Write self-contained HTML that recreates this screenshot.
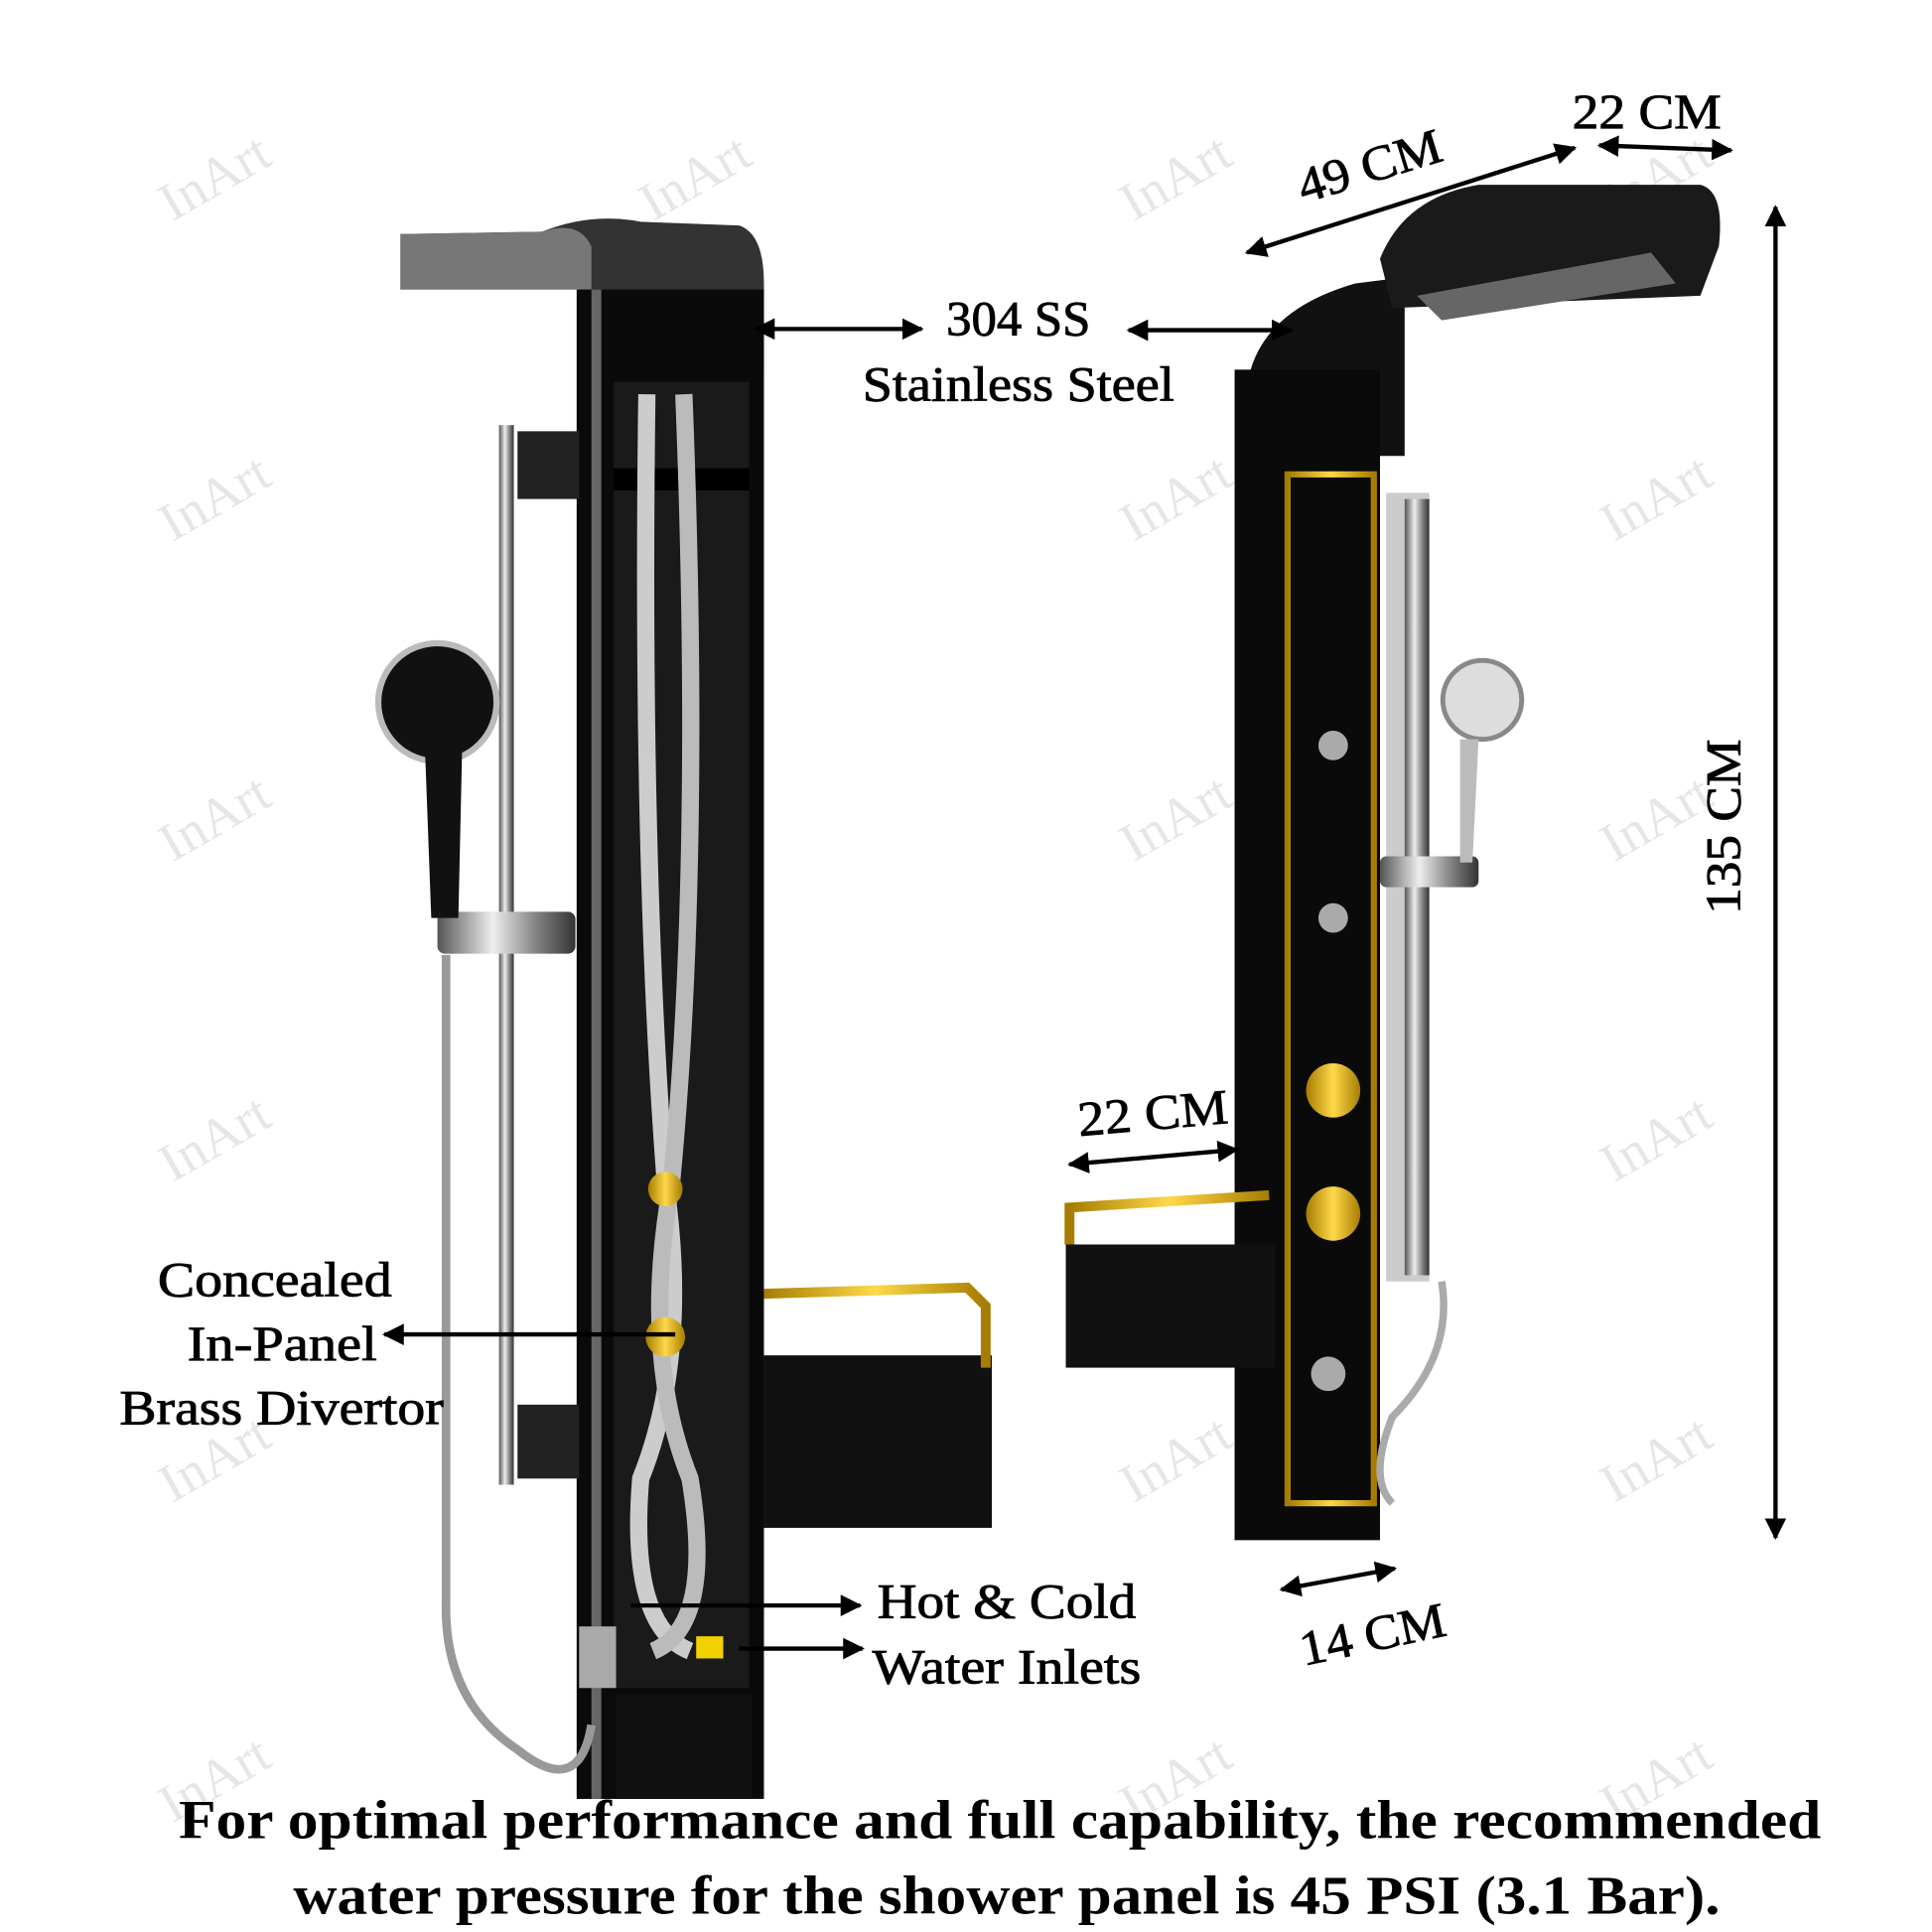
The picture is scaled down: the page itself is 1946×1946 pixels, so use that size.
<!DOCTYPE html>
<html><head><meta charset="utf-8"><style>
html,body{margin:0;padding:0;background:#fff}
svg{display:block}
text{font-family:"Liberation Serif",serif}
</style></head><body>
<svg width="1946" height="1946" viewBox="0 0 1568 1568" xmlns="http://www.w3.org/2000/svg">
<defs>
<marker id="a" viewBox="0 0 10 10" refX="9" refY="5" markerWidth="5" markerHeight="5" orient="auto-start-reverse"><path d="M0,0L10,5L0,10z" fill="#000"/></marker>
<linearGradient id="chrome" x1="0" x2="1"><stop offset="0" stop-color="#555"/><stop offset=".4" stop-color="#eee"/><stop offset=".7" stop-color="#888"/><stop offset="1" stop-color="#333"/></linearGradient>
<linearGradient id="gold" x1="0" x2="1"><stop offset="0" stop-color="#a67c00"/><stop offset=".5" stop-color="#ffd84a"/><stop offset="1" stop-color="#a67c00"/></linearGradient>
</defs>
<rect width="1568" height="1568" fill="#fff"/>
<g fill="#e6e6e6" font-size="44" font-family="Liberation Serif,serif">
<text transform="translate(140,180) rotate(-30)">InArt</text>
<text transform="translate(530,180) rotate(-30)">InArt</text>
<text transform="translate(920,180) rotate(-30)">InArt</text>
<text transform="translate(1310,180) rotate(-30)">InArt</text>
<text transform="translate(140,440) rotate(-30)">InArt</text>
<text transform="translate(920,440) rotate(-30)">InArt</text>
<text transform="translate(1310,440) rotate(-30)">InArt</text>
<text transform="translate(140,700) rotate(-30)">InArt</text>
<text transform="translate(920,700) rotate(-30)">InArt</text>
<text transform="translate(1310,700) rotate(-30)">InArt</text>
<text transform="translate(140,960) rotate(-30)">InArt</text>
<text transform="translate(1310,960) rotate(-30)">InArt</text>
<text transform="translate(140,1220) rotate(-30)">InArt</text>
<text transform="translate(920,1220) rotate(-30)">InArt</text>
<text transform="translate(1310,1220) rotate(-30)">InArt</text>
<text transform="translate(140,1480) rotate(-30)">InArt</text>
<text transform="translate(920,1480) rotate(-30)">InArt</text>
<text transform="translate(1310,1480) rotate(-30)">InArt</text>
</g>
<!-- LEFT PANEL -->
<path d="M325,190 L440,188 Q480,172 520,180 L600,183 Q620,190 620,230 L620,300 L470,300 L470,235 L325,235 Z" fill="#333"/>
<path d="M325,190 L440,188 Q470,178 480,200 L480,235 L325,235Z" fill="#777"/>
<rect x="468" y="235" width="152" height="1225" fill="#0a0a0a"/>
<rect x="480" y="235" width="8" height="1225" fill="#666"/>
<rect x="498" y="310" width="110" height="1060" fill="#1a1a1a"/>
<rect x="498" y="380" width="110" height="18" fill="#000"/>
<path d="M525,320 Q520,700 540,960 Q560,1100 520,1200 Q510,1320 560,1340" stroke="#ccc" stroke-width="14" fill="none"/>
<path d="M555,320 Q570,700 545,960 Q520,1100 560,1200 Q580,1320 530,1340" stroke="#bbb" stroke-width="14" fill="none"/>
<circle cx="540" cy="965" r="14" fill="url(#gold)"/>
<circle cx="540" cy="1085" r="16" fill="url(#gold)"/>
<rect x="565" y="1328" width="22" height="18" fill="#f0d000"/>
<rect x="500" y="1375" width="110" height="85" fill="#111"/>
<rect x="405" y="345" width="12" height="860" fill="url(#chrome)"/>
<rect x="420" y="350" width="50" height="55" fill="#222"/>
<rect x="420" y="1140" width="50" height="60" fill="#222"/>
<rect x="355" y="740" width="112" height="34" rx="6" fill="url(#chrome)"/>
<ellipse cx="355" cy="570" rx="48" ry="48" fill="#111" stroke="#bbb" stroke-width="5"/>
<path d="M345,610 L375,610 L372,745 L350,745Z" fill="#111"/>
<path d="M362,775 L362,1300 Q360,1380 420,1420 Q470,1460 480,1400" stroke="#999" stroke-width="7" fill="none"/>
<rect x="470" y="1320" width="30" height="50" fill="#aaa"/>
<rect x="620" y="1100" width="185" height="140" fill="#111"/>
<path d="M620,1050 L785,1045 L800,1060 L800,1110" stroke="url(#gold)" stroke-width="8" fill="none"/>
<!-- RIGHT PANEL -->
<path d="M1015,300 Q1030,250 1100,230 L1140,225 L1140,370 L1015,370Z" fill="#111"/>
<path d="M1120,210 Q1140,160 1200,150 L1380,150 Q1400,155 1395,200 L1380,240 L1130,250Z" fill="#1a1a1a"/>
<path d="M1150,240 L1340,205 L1360,230 L1170,260Z" fill="#666"/>
<rect x="1002" y="300" width="118" height="950" fill="#0a0a0a"/>
<rect x="1045" y="385" width="70" height="835" fill="none" stroke="url(#gold)" stroke-width="5"/>
<circle cx="1082" cy="605" r="12" fill="#aaa"/>
<circle cx="1082" cy="745" r="12" fill="#aaa"/>
<circle cx="1082" cy="885" r="22" fill="url(#gold)"/>
<circle cx="1082" cy="985" r="22" fill="url(#gold)"/>
<circle cx="1078" cy="1115" r="14" fill="#aaa"/>
<rect x="1125" y="400" width="35" height="640" fill="#ccc"/>
<rect x="1140" y="405" width="20" height="630" fill="url(#chrome)"/>
<rect x="1120" y="695" width="80" height="25" rx="5" fill="url(#chrome)"/>
<circle cx="1203" cy="568" r="32" fill="#ddd" stroke="#888" stroke-width="4"/>
<path d="M1185,600 L1200,600 L1195,700 L1185,700Z" fill="#bbb"/>
<path d="M1170,1040 Q1180,1100 1130,1150 Q1110,1200 1130,1220" stroke="#aaa" stroke-width="6" fill="none"/>
<rect x="865" y="1010" width="170" height="100" fill="#111"/>
<path d="M868,1010 L868,980 L1030,970" stroke="url(#gold)" stroke-width="8" fill="none"/>
<g stroke="#000" stroke-width="3.5" fill="none" marker-start="url(#a)" marker-end="url(#a)">
<line x1="1012" y1="205" x2="1278" y2="120"/>
<line x1="1298" y1="118" x2="1405" y2="122"/>
<line x1="1441" y1="168" x2="1441" y2="1248"/>
<line x1="868" y1="945" x2="1004" y2="933"/>
<line x1="1040" y1="1290" x2="1132" y2="1273"/>
</g>
<g stroke="#000" stroke-width="3.5" fill="none">
<line x1="613" y1="267" x2="748" y2="267" marker-start="url(#a)" marker-end="url(#a)"/>
<line x1="916" y1="268" x2="1048" y2="268" marker-start="url(#a)" marker-end="url(#a)"/>
<line x1="548" y1="1083" x2="312" y2="1083" marker-end="url(#a)"/>
<line x1="512" y1="1303" x2="698" y2="1303" marker-end="url(#a)"/>
<line x1="600" y1="1338" x2="700" y2="1338" marker-end="url(#a)"/>
</g>
<g font-size="40" fill="#000" stroke="#000" stroke-width="0.7" lengthAdjust="spacingAndGlyphs">
<text x="768" y="272" textLength="117" lengthAdjust="spacingAndGlyphs">304 SS</text>
<text x="700" y="325" textLength="253" lengthAdjust="spacingAndGlyphs">Stainless Steel</text>
<text transform="translate(1058,165) rotate(-17)" textLength="120" lengthAdjust="spacingAndGlyphs">49 CM</text>
<text x="1276" y="104" textLength="121" lengthAdjust="spacingAndGlyphs">22 CM</text>
<text transform="translate(1412,742) rotate(-90)" textLength="142" lengthAdjust="spacingAndGlyphs">135 CM</text>
<text transform="translate(876,922) rotate(-5)" textLength="122" lengthAdjust="spacingAndGlyphs">22 CM</text>
<text transform="translate(1058,1352) rotate(-12)" textLength="120" lengthAdjust="spacingAndGlyphs">14 CM</text>
<text x="128" y="1052" textLength="190" lengthAdjust="spacingAndGlyphs">Concealed</text>
<text x="152" y="1104" textLength="154" lengthAdjust="spacingAndGlyphs">In-Panel</text>
<text x="97" y="1156" textLength="263" lengthAdjust="spacingAndGlyphs">Brass Divertor</text>
<text x="712" y="1313" textLength="210" lengthAdjust="spacingAndGlyphs">Hot &amp; Cold</text>
<text x="708" y="1366" textLength="218" lengthAdjust="spacingAndGlyphs">Water Inlets</text>
</g>
<g font-size="44" font-weight="bold" fill="#000">
<text x="145" y="1492" textLength="1333" lengthAdjust="spacingAndGlyphs">For optimal performance and full capability, the recommended</text>
<text x="238" y="1553" textLength="1158" lengthAdjust="spacingAndGlyphs">water pressure for the shower panel is 45 PSI (3.1 Bar).</text>
</g>
</svg>
</body></html>
